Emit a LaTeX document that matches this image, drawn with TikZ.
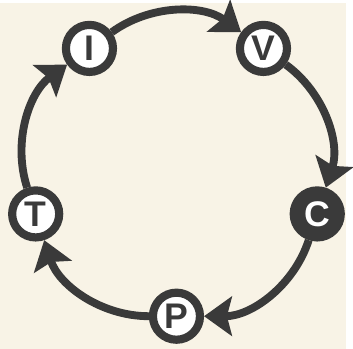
\documentclass[tikz,border=0pt]{standalone}
\usepackage{fontspec}
\setsansfont{Liberation Sans}
\usetikzlibrary{arrows.meta}
\definecolor{ringgray}{HTML}{3A3A3A}
\definecolor{paper}{HTML}{F8F3E6}

\begin{document}
\begin{tikzpicture}[
    stage/.style={circle, draw=ringgray, line width=0.25cm, fill=white,
                  minimum size=1.44cm, inner sep=0pt, outer sep=0.125cm,
                  font=\sffamily\bfseries\fontsize{31}{31}\selectfont, text=ringgray},
    flow/.style={draw=ringgray, line width=0.24cm,
                 -{Stealth[length=0.85cm, width=1.2cm, inset=0.15cm]}},
  ]
    \fill[paper] (-5.4,-5.52) rectangle (5.19,5.04);
    \node[stage] (I) at (126:4.53) {I};
    \node[stage] (V) at (54:4.53) {V};
    \node[stage, fill=ringgray, text=white] (C) at (-18:4.53) {C};
    \node[stage] (P) at (270:4.53) {P};
    \node[stage] (T) at (198:4.53) {T};
    \draw[flow] (I) to[bend left=36, looseness=0.94] (V);
    \draw[flow] (V) to[bend left=36, looseness=0.94] (C);
    \draw[flow] (C) to[bend left=36, looseness=0.94] (P);
    \draw[flow] (P) to[bend left=36, looseness=0.94] (T);
    \draw[flow] (T) to[bend left=36, looseness=0.94] (I);
\end{tikzpicture}
\end{document}
